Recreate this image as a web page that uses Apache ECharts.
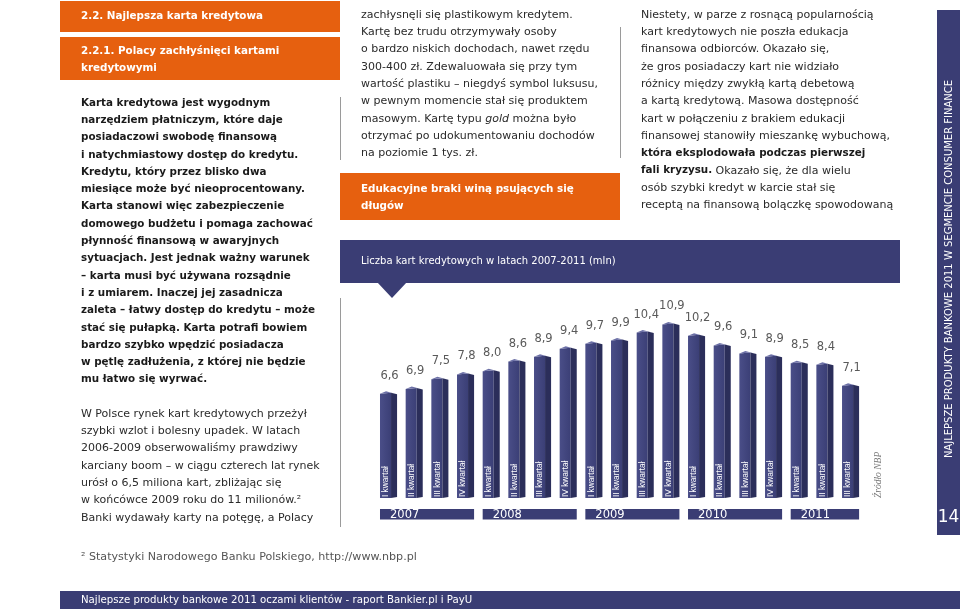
<!DOCTYPE html>
<html><head><meta charset="utf-8">
<script src="https://cdn.jsdelivr.net/npm/echarts@6/dist/echarts.min.js"></script>
<style>html,body{margin:0;padding:0;background:#fff}#c{width:960px;height:609px}</style>
</head><body><div id="c"></div>
<script>
// ---- DATA ----
const quarterLabels = ['I kwartał','II kwartał','III kwartał','IV kwartał',
  'I kwartał','II kwartał','III kwartał','IV kwartał',
  'I kwartał','II kwartał','III kwartał','IV kwartał',
  'I kwartał','II kwartał','III kwartał','IV kwartał',
  'I kwartał','II kwartał','III kwartał'];
const cardsMln = [6.6,6.9,7.5,7.8,8.0,8.6,8.9,9.4,9.7,9.9,10.4,10.9,10.2,9.6,9.1,8.9,8.5,8.4,7.1];
const years = ['2007','2008','2009','2010','2011'];
const yearFirstIdx = [0,4,8,12,16];
const yearLastIdx = [3,7,11,15,18];
const chartTitle = 'Liczba kart kredytowych w latach 2007-2011 (mln)';
const sourceNote = 'Źródło NBP';

// ---- STYLE ----
const NAVY = '#3a3d74', ORANGE = '#e6600f';
const FF = '"DejaVu Sans", Verdana, sans-serif';
const BODY = 11, BOLD = 10.35, LH = 17.3;
const reg = BODY + 'px ' + FF, bold = 'bold ' + BOLD + 'px ' + FF;

function T(x, y, text, font, fill, extra) {
  return Object.assign({type:'text', x:x, y:y, z:10, silent:true,
    style: Object.assign({text:text, font:font, fill:fill, lineHeight:LH,
      align:'left', textAlign:'left', verticalAlign:'middle', textVerticalAlign:'middle'}, extra && extra.style || {})},
    extra && extra.el || {});
}
function R(x, y, w, h, fill, z) {
  return {type:'rect', z:z||1, silent:true, shape:{x:x, y:y, width:w, height:h}, style:{fill:fill}};
}
function L(x, y1, y2) {
  return {type:'line', z:0, silent:true, shape:{x1:x, y1:y1, x2:x, y2:y2}, style:{stroke:'#9a9a9a', lineWidth:1}};
}

const leftBold = ['Karta kredytowa jest wygodnym','narzędziem płatniczym, które daje','posiadaczowi swobodę finansową',
 'i natychmiastowy dostęp do kredytu.','Kredytu, który przez blisko dwa','miesiące może być nieoprocentowany.',
 'Karta stanowi więc zabezpieczenie','domowego budżetu i pomaga zachować','płynność finansową w awaryjnych',
 'sytuacjach. Jest jednak ważny warunek','– karta musi być używana rozsądnie','i z umiarem. Inaczej jej zasadnicza',
 'zaleta – łatwy dostęp do kredytu – może','stać się pułapką. Karta potrafi bowiem','bardzo szybko wpędzić posiadacza',
 'w pętlę zadłużenia, z której nie będzie','mu łatwo się wyrwać.'].join('\n');
const leftReg = ['W Polsce rynek kart kredytowych przeżył','szybki wzlot i bolesny upadek. W latach',
 '2006-2009 obserwowaliśmy prawdziwy','karciany boom – w ciągu czterech lat rynek','urósł o 6,5 miliona kart, zbliżając się',
 'w końcówce 2009 roku do 11 milionów.²','Banki wydawały karty na potęgę, a Polacy'].join('\n');
const midReg = ['zachłysnęli się plastikowym kredytem.','Kartę bez trudu otrzymywały osoby','o bardzo niskich dochodach, nawet rzędu',
 '300-400 zł. Zdewaluowała się przy tym','wartość plastiku – niegdyś symbol luksusu,','w pewnym momencie stał się produktem',
 'masowym. Kartę typu {i|gold} można było','otrzymać po udokumentowaniu dochodów','na poziomie 1 tys. zł.'].join('\n');
const rightTxt = ['Niestety, w parze z rosnącą popularnością','kart kredytowych nie poszła edukacja','finansowa odbiorców. Okazało się,',
 'że gros posiadaczy kart nie widziało','różnicy między zwykłą kartą debetową','a kartą kredytową. Masowa dostępność',
 'kart w połączeniu z brakiem edukacji','finansowej stanowiły mieszankę wybuchową,','{b|która eksplodowała podczas pierwszej}',
 '{b|fali kryzysu.} Okazało się, że dla wielu','osób szybki kredyt w karcie stał się','receptą na finansową bolączkę spowodowaną'].join('\n');

const richStyles = {
  b:{font:bold, fill:'#1a1a1a', lineHeight:LH},
  i:{font:'italic ' + BODY + 'px ' + FF, fill:'#2a2a2a', lineHeight:LH}
};

const graphics = [
  R(60, 1, 280, 31, ORANGE), R(60, 37, 280, 43, ORANGE),
  T(81, 16.5, '2.2. Najlepsza karta kredytowa', bold, '#fff'),
  T(81, 59.5, '2.2.1. Polacy zachłyśnięci kartami\nkredytowymi', bold, '#fff'),
  T(81, 103 + 8*LH, leftBold, bold, '#1a1a1a'),
  T(81, 414 + 3*LH, leftReg, reg, '#2a2a2a'),
  L(340.5, 97, 160), L(340.5, 298, 527), L(620.5, 27, 158),
  T(361, 15 + 4*LH, midReg, reg, '#2a2a2a', {style:{rich:richStyles}}),
  R(340, 173, 280, 47, ORANGE),
  T(361, 197.5, 'Edukacyjne braki winą psujących się\ndługów', bold, '#fff'),
  R(340, 240, 560, 43, NAVY),
  {type:'polygon', z:1, silent:true, shape:{points:[[377,282],[407,282],[392,298]]}, style:{fill:NAVY}},
  T(361, 261.5, chartTitle, '10px ' + FF, '#fff'),
  T(641, 15 + 5.5*LH, rightTxt, reg, '#2a2a2a', {style:{rich:richStyles}}),
  R(937, 10, 23, 525, NAVY),
  T(0, 0, 'NAJLEPSZE PRODUKTY BANKOWE 2011 W SEGMENCIE CONSUMER FINANCE', '10px ' + FF, '#fff',
    {el:{x:949, y:269, rotation:Math.PI/2}, style:{align:'center', textAlign:'center'}}),
  T(948.5, 518, '14', '17px ' + FF, '#fff', {style:{align:'center', textAlign:'center'}}),
  T(81, 557, '² Statystyki Narodowego Banku Polskiego, http://www.nbp.pl', '11.1px ' + FF, '#555'),
  R(60, 591, 900, 18, NAVY),
  T(81, 600.5, 'Najlepsze produkty bankowe 2011 oczami klientów - raport Bankier.pl i PayU', '10.2px ' + FF, '#fff'),
  T(0, 0, sourceNote, 'italic 9.5px "Liberation Serif", serif', '#777',
    {el:{x:878, y:498, rotation:Math.PI/2}})
];

function fmt(v) { return v.toFixed(1).replace('.', ','); }

function renderBar(params, api) {
  const i = api.value(0), v = api.value(1);
  const pT = api.coord([i, v]), pB = api.coord([i, 0]);
  const band = api.size([1, 0])[0];
  const fw = band * 0.43, sw = band * 0.235;
  const x0 = pT[0] - (fw + sw) / 2, x1 = x0 + fw, x2 = x1 + sw;
  const yT = pT[1], yB = pB[1];
  return {type:'group', children:[
    {type:'polygon', shape:{points:[[x0,yT+2],[x1,yT+1],[x1,yB],[x0,yB]]},
      style:{fill:new echarts.graphic.LinearGradient(0,0,1,0,[{offset:0,color:'#4a4e88'},{offset:1,color:'#3b3f76'}])}},
    {type:'polygon', shape:{points:[[x1,yT+1],[x2,yT+2.5],[x2,yB-1],[x1,yB]]}, style:{fill:'#2b2e5a'}},
    {type:'polygon', shape:{points:[[x0,yT+2],[x0+sw,yT-0.5],[x2,yT+2.5],[x1,yT+1]]}, style:{fill:'#6c70a6'}},
    {type:'text', x:pT[0] + 1, y:yT - 16, style:{text:fmt(v), font:'11.5px ' + FF, fill:'#5a5a5a',
      align:'center', textAlign:'center', verticalAlign:'middle', textVerticalAlign:'middle'}},
    {type:'text', x:x0 + fw / 2 + 0.5, y:yB - 1, rotation:Math.PI / 2,
      style:{text:quarterLabels[i], font:'8.3px "Liberation Sans", Arial, sans-serif', fill:'#fff',
      align:'left', textAlign:'left', verticalAlign:'middle', textVerticalAlign:'middle'}}
  ]};
}

function renderYear(params, api) {
  const a = api.value(0), b = api.value(1);
  const pA = api.coord([a, 0]), pBb = api.coord([b, 0]);
  const band = api.size([1, 0])[0];
  const half = band * (0.43 + 0.235) / 2;
  const xs = pA[0] - half, xe = pBb[0] + half;
  const y = pA[1] + 11;
  return {type:'group', children:[
    {type:'rect', shape:{x:xs, y:y, width:xe - xs, height:10.5}, style:{fill:NAVY}},
    {type:'text', x:xs + 10, y:y + 6, style:{text:years[params.dataIndex], font:'11.5px ' + FF, fill:'#fff',
      align:'left', textAlign:'left', verticalAlign:'middle', textVerticalAlign:'middle'}}
  ]};
}

const chart = echarts.init(document.getElementById('c'), null, {renderer:'canvas'});
const yMax = 12;
chart.setOption({
  animation:false,
  backgroundColor:'#fff',
  grid:{left:375.7, width:487.7, top:498 - 16.1 * yMax, height:16.1 * yMax},
  xAxis:{type:'category', data:quarterLabels, show:false},
  yAxis:{type:'value', min:0, max:yMax, show:false},
  graphic:{elements:graphics},
  series:[
    {type:'custom', renderItem:renderBar, data:cardsMln.map((v, i) => [i, v]), encode:{x:0, y:1}, silent:true},
    {type:'custom', renderItem:renderYear, data:years.map((y, k) => [yearFirstIdx[k], yearLastIdx[k], 0]),
      encode:{x:[0, 1], y:2}, silent:true}
  ]
});
</script></body></html>
